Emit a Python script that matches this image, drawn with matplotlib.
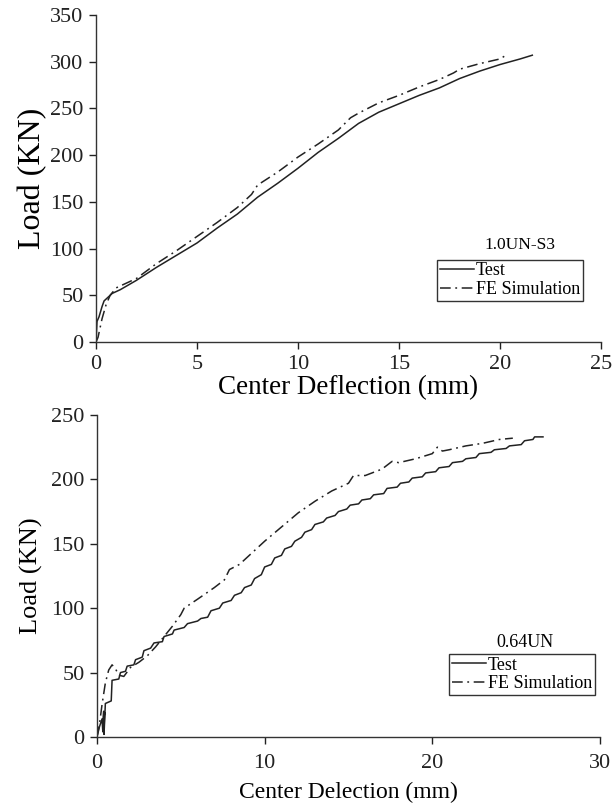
import matplotlib.pyplot as plt

# Datos (deflexion en mm, carga en kN)
# Panel superior: 1.0UN-S3
testX1 = [0, 0.05, 0.15, 0.3, 0.4, 0.6, 0.8, 1.2, 2, 3, 4, 5, 6, 7, 8, 9, 10, 11, 12, 13, 14, 15, 16, 17, 18, 19, 20, 21, 21.6]
testY1 = [0, 22, 27, 38, 44, 48, 52, 56, 66, 80, 93, 106, 122, 137, 155, 170, 186, 203, 218, 234, 246, 255, 264, 272, 282, 290, 297, 303, 307]
feX1 = [0, 0.1, 0.3, 0.5, 0.7, 1, 1.2, 2, 3, 4, 5, 6, 7, 7.7, 8, 9, 10, 11, 12, 12.6, 13, 14, 15, 16, 17, 17.7, 18, 19, 20, 20.3]
feY1 = [0, 5, 25, 40, 50, 58, 60, 68, 84, 98, 113, 128, 144, 158, 168, 182, 198, 212, 227, 240, 245, 256, 264, 273, 281, 288, 292, 298, 303, 307]

# Panel inferior: 0.64UN
testX2 = [0, 0.15, 0.3, 0.35, 0.4, 0.38, 0.45, 0.42, 0.5, 0.85, 0.9, 1.3, 1.4, 1.7, 1.8, 2.2, 2.3, 2.7, 2.8, 3.2,
          3.4, 3.9, 4.0, 4.5, 4.6, 5.2, 5.4, 6.0, 6.2, 6.6, 6.8, 7.3, 7.5, 8.0, 8.2, 8.6, 8.8, 9.2, 9.4, 9.8,
          10.0, 10.4, 10.6, 11.0, 11.2, 11.6, 11.8, 12.2, 12.4, 12.8, 13.0, 13.5, 13.7, 14.2, 14.4, 14.9, 15.1, 15.6, 15.8, 16.3,
          16.5, 17.1, 17.3, 17.9, 18.1, 18.6, 18.8, 19.4, 19.6, 20.2, 20.4, 21.0, 21.2, 21.8, 22.0, 22.6, 22.8, 23.5, 23.7, 24.4,
          24.6, 25.3, 25.5, 26.0, 26.1, 26.6]
testY2 = [0, 8, 14, 4, 20, 10, 19, 2, 26, 28, 44, 45, 50, 51, 55, 56, 60, 62, 67, 69,
          73, 74, 78, 80, 83, 85, 88, 90, 92, 93, 98, 100, 104, 106, 110, 112, 116, 118, 123, 126,
          132, 134, 139, 141, 146, 148, 152, 155, 159, 161, 165, 167, 170, 172, 175, 177, 180, 181, 184, 185,
          188, 189, 193, 194, 197, 198, 201, 202, 205, 206, 209, 210, 213, 214, 216, 217, 220, 221, 223, 224,
          226, 227, 230, 231, 233, 233]
feX2 = [0, 0.15, 0.3, 0.5, 0.7, 0.9, 1.1, 1.3, 1.6, 2.0, 2.5, 3.0, 3.5, 4.0, 4.5, 5.0, 5.2, 6.0, 7.0, 7.6, 7.9, 8.5,
        9.0, 10.0, 11.0, 12.0, 13.0, 14.0, 15.0, 15.3, 16.0, 17.0, 17.6, 18.0, 19.0, 20.0, 20.3, 20.6, 21.0, 22.0, 23.0, 24.0, 24.8]
feY2 = [0, 10, 25, 42, 52, 56, 53, 48, 47, 54, 58, 63, 70, 78, 86, 95, 100, 107, 116, 122, 130, 134,
        140, 152, 163, 174, 183, 191, 197, 203, 203, 208, 214, 213, 216, 220, 225, 222, 223, 226, 228, 231, 232]

plt.rcParams["font.family"] = ["Liberation Serif", "DejaVu Serif"]

fig = plt.figure(figsize=(6.13, 8.08), dpi=100)
ax1 = fig.add_axes([0.1566, 0.5767, 0.8238, 0.4047])
ax2 = fig.add_axes([0.1582, 0.0879, 0.8206, 0.3985])
ax2.patch.set_visible(False)  # para que no tape la etiqueta del eje x de arriba

dashDot = (0, (7, 3, 1.2, 3))


def estiloEje(ax, xmax, paso, ymax):
    for lado in ["top", "right"]:
        ax.spines[lado].set_visible(False)
    for lado in ["left", "bottom"]:
        ax.spines[lado].set_linewidth(1.0)
        ax.spines[lado].set_color("#333333")
    ax.set_xlim(0, xmax)
    ax.set_ylim(0, ymax)
    ax.set_xticks(range(0, xmax + 1, paso))
    ax.set_yticks(range(0, ymax + 1, 50))
    ax.tick_params(direction="out", length=5, width=1, labelsize=16, colors="#222222", pad=4)


# Grafico superior
ax1.plot(testX1, testY1, color="#222222", lw=1.1, label="Test")
ax1.plot(feX1, feY1, color="#222222", lw=1.1, linestyle=dashDot, label="FE Simulation")
estiloEje(ax1, 25, 5, 350)
ax1.set_xlabel("Center Deflection (mm)", fontsize=19.5, labelpad=1)
ax1.set_ylabel("Load (KN)", fontsize=23, labelpad=2)
ax1.text(0.84, 0.297, "1.0UN-S3", transform=ax1.transAxes, ha="center", va="center", fontsize=12.5)
leg1 = ax1.legend(loc="upper left", bbox_to_anchor=(0.675, 0.252), fontsize=13, frameon=True, fancybox=False,
                  edgecolor="black", handlelength=1.9, handletextpad=0.1, borderpad=0.15, labelspacing=0.1,
                  borderaxespad=0)
leg1.get_frame().set_linewidth(1.0)

# Grafico inferior
ax2.plot(testX2, testY2, color="#222222", lw=1.1, label="Test")
ax2.plot(feX2, feY2, color="#222222", lw=1.1, linestyle=dashDot, label="FE Simulation")
estiloEje(ax2, 30, 10, 250)
ax2.tick_params(axis="x", pad=7)
ax2.set_xlabel("Center Delection (mm)", fontsize=17, labelpad=7)
ax2.set_ylabel("Load (KN)", fontsize=19, labelpad=6)
ax2.text(0.851, 0.292, "0.64UN", transform=ax2.transAxes, ha="center", va="center", fontsize=13)
leg2 = ax2.legend(loc="upper left", bbox_to_anchor=(0.70, 0.258), fontsize=13, frameon=True, fancybox=False,
                  edgecolor="black", handlelength=1.9, handletextpad=0.1, borderpad=0.15, labelspacing=0.1,
                  borderaxespad=0)
leg2.get_frame().set_linewidth(1.0)

fig.savefig("out.png", dpi=100)
